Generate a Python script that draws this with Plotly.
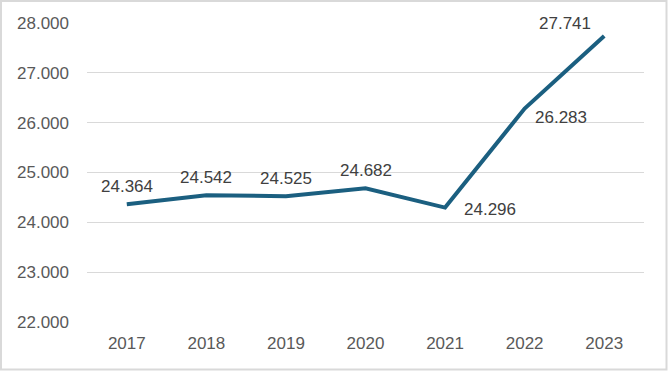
import plotly.graph_objects as go

years = ["2017", "2018", "2019", "2020", "2021", "2022", "2023"]
values = [24364, 24542, 24525, 24682, 24296, 26283, 27741]
y_ticks = [22000, 23000, 24000, 25000, 26000, 27000, 28000]
# label offsets in pixels (xshift, yshift) per point
label_dx = [0, 0, 0, 0, 45, 36, -39]
label_dy = [18, 18, 18, 18, -2, -9, 12]

def fmt(v):
    return f"{v:,}".replace(",", ".")

FONT = "Liberation Sans, Arial, sans-serif"

fig = go.Figure()
fig.add_trace(go.Scatter(
    x=years, y=values, mode="lines",
    line=dict(color="#1B5F80", width=4),
    hoverinfo="skip", showlegend=False,
))

for i, (v, dx, dy) in enumerate(zip(values, label_dx, label_dy)):
    fig.add_annotation(x=i, y=v, text=fmt(v), showarrow=False,
                       xshift=dx, yshift=dy,
                       font=dict(family=FONT, size=17, color="#404040"))

W, H = 668, 371
L, R, T, B = 87, 24, 23, 49
pw, ph = W - L - R, H - T - B
fig.add_shape(type="rect", xref="paper", yref="paper",
              x0=(1 - L) / pw, x1=(W - 1.5 - L) / pw,
              y0=(T + ph - (H - 1.5)) / ph, y1=(T + ph - 1) / ph,
              line=dict(color="#D9D9D9", width=2), layer="below")

fig.update_layout(
    width=W, height=H,
    margin=dict(l=L, r=R, t=T, b=B),
    plot_bgcolor="white", paper_bgcolor="white",
    separators=",.",
    font=dict(family=FONT, size=17, color="#595959"),
    xaxis=dict(type="category", range=[-0.5, 6.5],
               showgrid=False, zeroline=False, showline=False, ticks="",
               ticklabelstandoff=9, tickfont=dict(family=FONT, size=17, color="#595959")),
    yaxis=dict(range=[22000, 28000], tickvals=y_ticks, tickformat=",.0f",
               showgrid=True, gridcolor="#D9D9D9", gridwidth=1.3,
               zeroline=False, showline=False, ticks="",
               ticklabelstandoff=17, tickfont=dict(family=FONT, size=17, color="#595959")),
)

fig.write_html("out.html", config={"displayModeBar": False},
               post_script="document.body.style.margin='0';")
